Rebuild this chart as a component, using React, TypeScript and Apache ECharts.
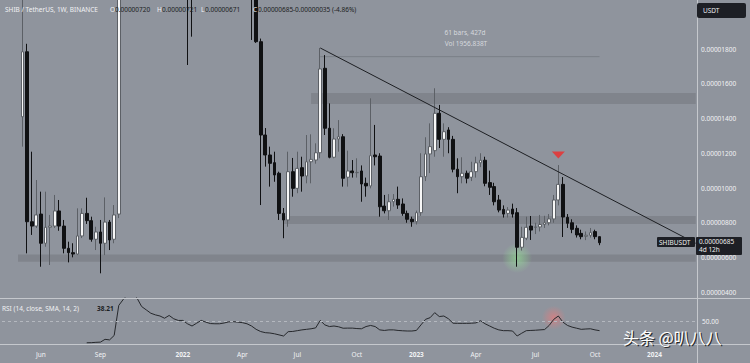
import React, { useEffect, useRef } from 'react';
import * as echarts from 'echarts';

// ---- axis scaffolding ----
const WEEK_START_UTC = Date.UTC(2021, 3, 12); // Monday of first category
const WEEK_COUNT = 152;
const FIRST_CANDLE = 4; // category index of week 2021-05-10

// ---- price data: [open, close, low, high] in units of 1e-8 USDT ----
const ohlc: number[][] = [
  [1410, 1784, 1238, 3880], [1784, 806, 624, 1830], [806, 781, 730, 1209], [781, 845, 770, 1046],
  [850, 682, 547, 979], [682, 774, 662, 979], [774, 781, 557, 845], [781, 868, 770, 960],
  [868, 781, 754, 931], [781, 653, 624, 816], [653, 628, 572, 691], [628, 620, 601, 682],
  [620, 724, 614, 883], [724, 854, 712, 883], [854, 812, 793, 944], [812, 705, 691, 835],
  [705, 747, 643, 777], [747, 682, 509, 816], [682, 804, 614, 946], [804, 701, 643, 816],
  [705, 845, 682, 902], [850, 2650, 827, 3000], [2650, 2450, 2150, 3900], [2450, 4200, 2400, 4600],
  [4200, 5400, 4000, 8800], [5400, 5500, 4800, 6600], [5500, 4900, 4600, 5900], [4900, 4300, 4100, 5100],
  [4300, 4100, 3800, 4500], [4100, 3600, 3200, 4300], [3600, 3500, 2800, 3900], [3500, 3400, 3100, 3800],
  [3400, 3300, 3100, 3600], [3300, 3500, 3200, 3700], [3500, 3200, 3000, 3600], [3200, 2900, 2750, 3400],
  [2900, 2200, 1708, 3000], [2200, 2150, 1871, 2500], [2150, 2750, 2100, 3000], [2750, 2600, 2400, 3300],
  [2600, 2400, 2250, 2800], [2400, 2250, 2150, 2600], [2250, 2300, 2150, 2500], [2300, 2250, 2150, 2450],
  [2250, 2300, 2150, 2500], [2300, 2700, 2250, 2900], [2700, 2650, 2500, 3000], [2650, 2550, 2400, 2750],
  [2550, 2450, 2300, 2700], [2450, 2350, 2250, 2600], [2350, 2250, 1852, 2450], [2250, 1842, 1835, 2350],
  [1842, 1305, 902, 1860], [1305, 1190, 1123, 1345], [1190, 1142, 1008, 1238], [1146, 1075, 1036, 1209],
  [1085, 854, 816, 1094], [854, 816, 711, 885], [816, 1094, 777, 1209], [1094, 998, 950, 1173],
  [998, 1113, 970, 1209], [1117, 1069, 979, 1180], [1069, 1151, 1027, 1305], [1151, 1165, 1027, 1309],
  [1161, 1203, 1140, 1257], [1203, 1685, 1171, 1806], [1689, 1344, 1305, 1765], [1344, 1177, 1171, 1487],
  [1177, 1282, 1171, 1344], [1282, 1295, 1209, 1391], [1295, 1056, 1008, 1310], [1062, 1098, 1008, 1215],
  [1098, 1088, 1060, 1161], [1088, 1090, 1060, 1171], [1098, 1023, 921, 1130], [1027, 1012, 950, 1060],
  [1012, 1186, 998, 1516], [1190, 1180, 1130, 1363], [1184, 892, 835, 1200], [896, 869, 854, 960],
  [869, 921, 816, 965], [921, 935, 893, 965], [935, 902, 880, 1008], [908, 854, 840, 940],
  [854, 820, 800, 870], [820, 806, 777, 835], [806, 858, 790, 870], [858, 1065, 840, 1200],
  [1065, 1196, 1040, 1292], [1196, 1238, 1086, 1372], [1215, 1430, 1180, 1574], [1430, 1280, 1230, 1478],
  [1280, 1324, 1180, 1372], [1334, 1280, 1200, 1350], [1280, 1108, 1090, 1300], [1108, 1065, 970, 1171],
  [1065, 1085, 1027, 1177], [1085, 1056, 1027, 1100], [1062, 1094, 1040, 1151], [1094, 1145, 1060, 1180],
  [1145, 1160, 1120, 1200], [1160, 1027, 1010, 1180], [1031, 1004, 960, 1100], [1008, 921, 900, 1030],
  [931, 873, 860, 960], [877, 850, 830, 900], [854, 873, 830, 890], [879, 850, 830, 910],
  [858, 659, 547, 885], [659, 716, 640, 777], [711, 774, 700, 835], [781, 758, 701, 839],
  [773, 776, 735, 800], [776, 790, 750, 845], [790, 800, 770, 840], [800, 822, 785, 850],
  [822, 931, 800, 960], [931, 1021, 900, 1132], [1021, 833, 718, 1063], [831, 797, 770, 850],
  [800, 762, 740, 820], [768, 730, 715, 785], [739, 720, 705, 760], [722, 728, 700, 750],
  [728, 743, 715, 770], [749, 720, 705, 760], [720, 685, 671, 721],
];

// ---- RSI(14) per week, starting 14 weeks after first candle ----
const rsiStartWeek = 14;
const rsiValues = [
  30.4, 30.5, 30.8, 31.0, 33.5, 33.0, 37.0, 64.0, 69.5, 74, 76, 70.5, 63, 60, 57, 55.5,
  54.5, 52.5, 55, 52, 50.5, 50.5, 47.5, 45.5, 48, 50.5, 49, 47.7, 47.5, 47.5, 48.2, 49.2,
  49.4, 49, 48.5, 47.5, 45.5, 42.5, 40.5, 39.5, 39.2, 38.5, 37.5, 36.5, 40.4, 40.6, 41.3, 42,
  42.5, 43, 43.8, 50.5, 46.5, 45, 45.5, 44.8, 43.5, 43.6, 43.6, 43.2, 43, 45, 46, 45,
  42, 41.5, 42, 42, 41.5, 41.2, 41, 41, 41.5, 46.5, 51.5, 53, 57.5, 54, 54.5, 52,
  48, 47.9, 47.9, 47.9, 48, 48.3, 50.3, 47.5, 45.5, 43.5, 42, 41.3, 41.3, 41, 36.5, 39,
  41.3, 41.5, 41.7, 42, 42.3, 46, 51.5, 54.5, 49, 46, 44.5, 43.5, 42.5, 42.8, 43, 42, 41.3,
];

// ---- time axis labels ----
const tickDates = ['2021-06-07', '2021-09-06', '2022-01-10', '2022-04-11', '2022-07-04', '2022-10-03',
  '2023-01-02', '2023-04-03', '2023-07-03', '2023-10-02', '2024-01-01'];
const tickLabels = ['Jun', 'Sep', '2022', 'Apr', 'Jul', 'Oct', '2023', 'Apr', 'Jul', 'Oct', '2024'];

// ---- horizontal zones (from category index, price low, price high) ----
const zoneStarts = [67, 61, 3];
const zoneLows = [1483, 793, 576];
const zoneHighs = [1547, 839, 617];

// ---- drawn lines [categoryIndex, price] ----
const trendLine = [[69, 1806], [151, 682]];
const rangeLine = [[69, 1756], [130, 1756]];
const signalTriangle = [[121, 1190]];
const supportGlow = [[112, 597]];
const rsiGlow = [[120, 53]];

const BG = '#8f949d';
const BAND = '#80848c';
const LIGHT = '#f1f2f4';
const DARK = '#1c1e22';
const FONT = 'Noto Sans';

function buildOption() {
  const categories: string[] = [];
  for (let i = 0; i < WEEK_COUNT; i++) {
    categories.push(new Date(WEEK_START_UTC + i * 7 * 86400000).toISOString().slice(0, 10));
  }
  const tickIndex = new Set(tickDates.map((d) => categories.indexOf(d)));
  const candleData = categories.map((_, i) => {
    const k = i - FIRST_CANDLE;
    return k >= 0 && k < ohlc.length ? ohlc[k] : '-';
  });
  const rsiData = categories.map((_, i) => {
    const k = i - FIRST_CANDLE - rsiStartWeek;
    return k >= 0 && k < rsiValues.length ? rsiValues[k] : '-';
  });
  const fmtPrice = (v: number) => (v / 1e8).toFixed(8);

  const txt = (x: number, y: number, text: string, fill: string, extra: any = {}) => ({
    type: 'text', x, y, z: 20, silent: true,
    style: { text, fill, fontSize: 6.5, fontFamily: FONT, verticalAlign: 'middle', ...extra },
  });

  return {
    animation: false,
    backgroundColor: BG,
    grid: [
      { left: 2, width: 696, top: 0, height: 298 },
      { left: 2, width: 696, top: 298, height: 46 },
    ],
    xAxis: [
      { type: 'category', gridIndex: 0, data: categories, show: false },
      {
        type: 'category', gridIndex: 1, data: categories,
        axisLine: { show: false }, axisTick: { show: false },
        axisLabel: {
          interval: (idx: number) => tickIndex.has(idx),
          formatter: (val: string) => {
            const lbl = tickLabels[tickDates.indexOf(val)] ?? '';
            return /^\d{4}$/.test(lbl) ? `{b|${lbl}}` : lbl;
          },
          color: LIGHT, fontSize: 6.5, fontFamily: FONT, margin: 7,
          rich: { b: { fontWeight: 'bold', color: LIGHT, fontSize: 6.5, fontFamily: FONT } },
        },
      },
    ],
    yAxis: [
      {
        type: 'value', gridIndex: 0, position: 'right', min: 367, max: 2082, splitNumber: 8,
        splitLine: { show: false }, axisLine: { show: false }, axisTick: { show: false },
        axisLabel: {
          showMinLabel: false, showMaxLabel: false,
          formatter: (v: number) => (v % 200 === 0 && v <= 1800 ? fmtPrice(v) : ''),
          color: LIGHT, fontSize: 6.5, fontFamily: FONT, margin: 3,
        },
      },
      { type: 'value', gridIndex: 1, min: 29.3, max: 70.7, show: false },
    ],
    series: [
      {
        type: 'line', xAxisIndex: 0, yAxisIndex: 0, data: [], z: 1, silent: true,
        markArea: {
          silent: true,
          itemStyle: { color: BAND },
          data: zoneStarts.map((s, j) => [
            { xAxis: s, yAxis: zoneHighs[j] },
            { xAxis: WEEK_COUNT - 1, yAxis: zoneLows[j] },
          ]),
        },
      },
      {
        type: 'line', xAxisIndex: 0, yAxisIndex: 0, data: rangeLine, z: 2, silent: true,
        symbol: 'none', lineStyle: { color: '#7b7f87', width: 1 },
      },
      {
        type: 'scatter', xAxisIndex: 0, yAxisIndex: 0, data: supportGlow, z: 2, silent: true,
        symbolSize: 30,
        itemStyle: {
          color: {
            type: 'radial', x: 0.5, y: 0.5, r: 0.5,
            colorStops: [
              { offset: 0, color: 'rgba(150,235,150,0.75)' },
              { offset: 1, color: 'rgba(150,235,150,0)' },
            ],
          },
        },
      },
      {
        type: 'candlestick', xAxisIndex: 0, yAxisIndex: 0, data: candleData, z: 3, clip: true,
        barWidth: 3.2, silent: true,
        itemStyle: {
          color: '#f7f7f7', color0: '#101113',
          borderColor: '#5c6066', borderColor0: '#101113', borderWidth: 1,
        },
      },
      {
        type: 'line', xAxisIndex: 0, yAxisIndex: 0, data: trendLine, z: 4, silent: true,
        symbol: 'none', lineStyle: { color: '#1d1f23', width: 1 },
      },
      {
        type: 'scatter', xAxisIndex: 0, yAxisIndex: 0, data: signalTriangle, z: 5, silent: true,
        symbol: 'triangle', symbolRotate: 180, symbolSize: [13, 7],
        itemStyle: { color: '#ef2b2b' },
      },
      {
        type: 'scatter', xAxisIndex: 1, yAxisIndex: 1, data: rsiGlow, z: 2, silent: true,
        symbolSize: 24,
        itemStyle: {
          color: {
            type: 'radial', x: 0.5, y: 0.5, r: 0.5,
            colorStops: [
              { offset: 0, color: 'rgba(240,120,120,0.8)' },
              { offset: 1, color: 'rgba(240,120,120,0)' },
            ],
          },
        },
      },
      {
        type: 'line', xAxisIndex: 1, yAxisIndex: 1, data: rsiData, z: 3, silent: true,
        symbol: 'none', lineStyle: { color: '#26282c', width: 1 },
        markLine: {
          silent: true, symbol: 'none',
          lineStyle: { color: '#b4b8bf', type: [3, 3], width: 1 },
          label: { show: true, position: 'end', formatter: '50.00', color: LIGHT, fontSize: 6.5, fontFamily: FONT, distance: 4 },
          data: [{ yAxis: 50 }],
        },
      },
    ],
    graphic: [
      { type: 'line', z: 15, silent: true, shape: { x1: 697.5, y1: 0, x2: 697.5, y2: 363 }, style: { stroke: '#c5c8cd', lineWidth: 1 } },
      { type: 'line', z: 15, silent: true, shape: { x1: 0, y1: 298.5, x2: 750, y2: 298.5 }, style: { stroke: '#c5c8cd', lineWidth: 1 } },
      { type: 'line', z: 15, silent: true, shape: { x1: 0, y1: 344.5, x2: 750, y2: 344.5 }, style: { stroke: '#c5c8cd', lineWidth: 1 } },
      // legend
      txt(5, 9, 'SHIB / TetherUS, 1W, BINANCE', LIGHT),
      txt(110, 9, 'O', LIGHT), txt(115, 9, '0.00000720', DARK),
      txt(157, 9, 'H', LIGHT), txt(162, 9, '0.00000721', DARK),
      txt(201, 9, 'L', LIGHT), txt(205, 9, '0.00000671', DARK),
      txt(253, 9, 'C', LIGHT), txt(258, 9, '0.00000685', DARK),
      txt(293, 9, '-0.00000035 (-4.86%)', DARK),
      // range tool
      txt(465, 32, '61 bars, 427d', '#d6d9de', { align: 'center' }),
      txt(466, 43, 'Vol 1956.838T', '#d6d9de', { align: 'center' }),
      // RSI legend
      txt(2, 308, 'RSI (14, close, SMA, 14, 2)', LIGHT),
      txt(97, 308, '38.21', DARK, { fontWeight: 'bold' }),
      // USDT box
      { type: 'rect', z: 18, silent: true, shape: { x: 697, y: 3, width: 49, height: 15, r: 2 }, style: { fill: '#1d1f25' } },
      txt(703, 10.5, 'USDT', '#e9eaec'),
      // last price labels
      { type: 'rect', z: 18, silent: true, shape: { x: 657, y: 237, width: 38, height: 10, r: 1 }, style: { fill: '#1d1f25' } },
      txt(659, 242, 'SHIBUSDT', '#eeeeee'),
      { type: 'rect', z: 18, silent: true, shape: { x: 696, y: 237, width: 46, height: 18, r: 1 }, style: { fill: '#1d1f25' } },
      txt(699, 241.5, '0.00000685', '#eeeeee'),
      txt(699, 249, '4d 12h', '#eeeeee'),
      // watermark
      { type: 'text', z: 19, silent: true, x: 624.2, y: 338, style: { text: '头条 @叭八八', fill: '#2a2b2e', fontSize: 16, fontFamily: 'Noto Sans CJK SC', verticalAlign: 'middle' } },
      { type: 'text', z: 20, silent: true, x: 623, y: 337, style: { text: '头条 @叭八八', fill: '#ffffff', fontSize: 16, fontFamily: 'Noto Sans CJK SC', verticalAlign: 'middle' } },
    ],
  };
}

export default function App() {
  const ref = useRef<HTMLDivElement>(null);
  useEffect(() => {
    document.body.style.margin = '0';
    const chart = echarts.init(ref.current as HTMLDivElement, null, { renderer: 'svg' });
    chart.setOption(buildOption() as any);
    return () => chart.dispose();
  }, []);
  return <div ref={ref} style={{ width: 750, height: 363, position: 'absolute', left: 0, top: 0 }} />;
}
